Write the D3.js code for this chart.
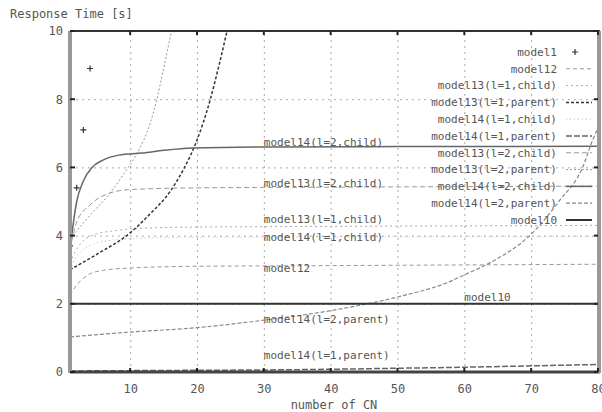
<!DOCTYPE html>
<html lang="en">
<head>
    <meta charset="UTF-8">
    <title>Response Time</title>
    <script src="https://d3js.org/d3.v7.min.js"></script>
    <style>
        body { margin: 0; background: #fff; }
        text { font-family: "DejaVu Sans Mono", monospace; fill: #555; }
        .grid line { stroke: #aaa; stroke-dasharray: 2,4; }
        .grid path { display: none; }
    </style>
</head>
<body>
    <svg width="602" height="412"></svg>
    <script>
        // x ticks / y ticks
        var xTicks = [10, 20, 30, 40, 50, 60, 70, 80];
        var yTicks = [0, 2, 4, 6, 8, 10];

        var legendNames = ["model1", "model12", "model13(l=1,child)", "model13(l=1,parent)",
            "model14(l=1,child)", "model14(l=1,parent)", "model13(l=2,child)", "model13(l=2,parent)",
            "model14(l=2,child)", "model14(l=2,parent)", "model10"];

        // series
        var model1X = [1, 2, 3, 4];
        var model1Y = [3.7, 5.4, 7.1, 8.9];

        var model12X = [1, 2, 3, 4, 6, 10, 20, 40, 60, 80];
        var model12Y = [2.25, 2.55, 2.75, 2.88, 2.98, 3.05, 3.1, 3.12, 3.14, 3.16];

        var model13l1cX = [1, 2, 3, 5, 8, 12, 20, 40, 80];
        var model13l1cY = [3.2, 3.6, 3.85, 4.05, 4.15, 4.22, 4.25, 4.27, 4.3];

        var model13l1pX = [1, 5, 10, 12.8, 16, 18, 20, 22, 23.3, 24.5];
        var model13l1pY = [3.0, 3.45, 4.08, 4.6, 5.3, 5.95, 6.8, 8.0, 9.0, 10];

        var model14l1cX = [1, 2, 3, 5, 8, 12, 20, 40, 80];
        var model14l1cY = [3.0, 3.4, 3.6, 3.78, 3.88, 3.93, 3.95, 3.96, 3.97];

        var model14l1pX = [1, 10, 20, 30, 40, 50, 60, 70, 80];
        var model14l1pY = [0.03, 0.04, 0.05, 0.06, 0.08, 0.11, 0.14, 0.18, 0.22];

        var model13l2cX = [1, 2, 4, 7, 10, 20, 40, 80];
        var model13l2cY = [3.6, 4.4, 4.9, 5.25, 5.35, 5.4, 5.42, 5.45];

        var model13l2pX = [1, 4, 7, 9, 11, 13, 14, 15, 16.2];
        var model13l2pY = [3.9, 4.6, 5.25, 5.8, 6.4, 7.3, 8.0, 8.9, 10];

        var model14l2cX = [1, 2, 3, 4.3, 6, 8.3, 11.8, 15, 19.3, 30, 50, 80];
        var model14l2cY = [3.6, 5.0, 5.6, 6.0, 6.22, 6.36, 6.42, 6.5, 6.57, 6.6, 6.61, 6.62];

        var model14l2pX = [1, 10, 20, 30, 40, 50, 57.8, 60, 63.8, 70.2, 74.3, 77.7, 79.2, 80];
        var model14l2pY = [1.03, 1.17, 1.3, 1.52, 1.8, 2.2, 2.65, 2.85, 3.2, 4.08, 5.04, 6.0, 6.8, 7.15];

        var model10X = [1, 80];
        var model10Y = [2, 2];

        // labels written inside the plot, at data coordinates
        var plotLabels = [
            { text: "model14(l=2,child)", x: 30, y: 6.74 },
            { text: "model13(l=2,child)", x: 30, y: 5.54 },
            { text: "model13(l=1,child)", x: 30, y: 4.49 },
            { text: "model14(l=1,child)", x: 30, y: 3.96 },
            { text: "model12", x: 30, y: 3.05 },
            { text: "model14(l=2,parent)", x: 30, y: 1.55 },
            { text: "model14(l=1,parent)", x: 30, y: 0.5 },
            { text: "model10", x: 60, y: 2.2 }
        ];

        function pts(xs, ys) { return xs.map(function (v, i) { return [v, ys[i]]; }); }

        var styles = {
            "model12": { data: pts(model12X, model12Y), color: "#999", width: 1, dash: "4,3" },
            "model13(l=1,child)": { data: pts(model13l1cX, model13l1cY), color: "#aaa", width: 1, dash: "2,3" },
            "model13(l=1,parent)": { data: pts(model13l1pX, model13l1pY), color: "#333", width: 1.5, dash: "3,2" },
            "model14(l=1,child)": { data: pts(model14l1cX, model14l1cY), color: "#bbb", width: 1, dash: "1,3" },
            "model14(l=1,parent)": { data: pts(model14l1pX, model14l1pY), color: "#666", width: 1.5, dash: "6,2" },
            "model13(l=2,child)": { data: pts(model13l2cX, model13l2cY), color: "#999", width: 1, dash: "5,3" },
            "model13(l=2,parent)": { data: pts(model13l2pX, model13l2pY), color: "#999", width: 1, dash: "2,2" },
            "model14(l=2,child)": { data: pts(model14l2cX, model14l2cY), color: "#666", width: 1.5, dash: null },
            "model14(l=2,parent)": { data: pts(model14l2pX, model14l2pY), color: "#888", width: 1.2, dash: "4,2" },
            "model10": { data: pts(model10X, model10Y), color: "#333", width: 2, dash: null }
        };

        var svg = d3.select("svg");
        var pLeft = 70, pRight = 598, pTop = 31, pBottom = 372;

        var x = d3.scaleLinear().domain([1, 80]).range([pLeft, pRight]);
        var y = d3.scaleLinear().domain([0, 10]).range([pBottom, pTop]);

        // grid
        svg.append("g").attr("class", "grid")
            .attr("transform", "translate(0," + pBottom + ")")
            .call(d3.axisBottom(x).tickValues(xTicks.slice(0, -1)).tickSize(-(pBottom - pTop)).tickFormat(""));
        svg.append("g").attr("class", "grid")
            .attr("transform", "translate(" + pLeft + ",0)")
            .call(d3.axisLeft(y).tickValues([2, 4, 6, 8]).tickSize(-(pRight - pLeft)).tickFormat(""));

        // tick labels
        var xAxis = svg.append("g")
            .attr("transform", "translate(0," + pBottom + ")")
            .call(d3.axisBottom(x).tickValues(xTicks).tickSize(0).tickPadding(12));
        var yAxis = svg.append("g")
            .attr("transform", "translate(" + pLeft + ",0)")
            .call(d3.axisLeft(y).tickValues(yTicks).tickSize(0).tickPadding(7));
        [xAxis, yAxis].forEach(function (a) {
            a.select(".domain").remove();
            a.selectAll("text").style("font-size", "12px").style("font-family", "DejaVu Sans Mono").attr("fill", "#555");
        });

        // lines
        var line = d3.line().x(function (d) { return x(d[0]); }).y(function (d) { return y(d[1]); })
            .curve(d3.curveMonotoneX);
        var plot = svg.append("g");
        plot.append("clipPath").attr("id", "clip").append("rect")
            .attr("x", pLeft).attr("y", pTop).attr("width", pRight - pLeft).attr("height", pBottom - pTop);
        var lines = plot.append("g").attr("clip-path", "url(#clip)");
        Object.keys(styles).forEach(function (k) {
            var s = styles[k];
            lines.append("path").datum(s.data)
                .attr("d", line)
                .attr("fill", "none")
                .attr("stroke", s.color)
                .attr("stroke-width", s.width)
                .attr("stroke-dasharray", s.dash);
        });

        // model1 points
        lines.selectAll(".pt").data(pts(model1X, model1Y)).enter().append("path")
            .attr("class", "pt")
            .attr("d", function (d) {
                var cx = x(d[0]), cy = y(d[1]);
                return "M" + (cx - 3) + "," + cy + "H" + (cx + 3) + "M" + cx + "," + (cy - 3) + "V" + (cy + 3);
            })
            .attr("stroke", "#333").attr("stroke-width", 1.2);

        // frame
        svg.append("line").attr("x1", pLeft).attr("x2", pRight + 2).attr("y1", pTop).attr("y2", pTop)
            .attr("stroke", "#333").attr("stroke-width", 2);
        svg.append("line").attr("x1", pLeft).attr("x2", pRight + 2).attr("y1", pBottom).attr("y2", pBottom)
            .attr("stroke", "#444").attr("stroke-width", 3);
        svg.append("line").attr("x1", pLeft).attr("x2", pLeft).attr("y1", pTop).attr("y2", pBottom + 1)
            .attr("stroke", "#999").attr("stroke-width", 4);
        svg.append("line").attr("x1", pRight + 1).attr("x2", pRight + 1).attr("y1", pTop).attr("y2", pBottom + 1)
            .attr("stroke", "#999").attr("stroke-width", 4);

        // small tick marks on the frame
        var ticks = svg.append("g").attr("stroke", "#222").attr("stroke-width", 2);
        xTicks.forEach(function (t) {
            ticks.append("line").attr("x1", x(t)).attr("x2", x(t)).attr("y1", pTop).attr("y2", pTop + 4);
            ticks.append("line").attr("x1", x(t)).attr("x2", x(t)).attr("y1", pBottom).attr("y2", pBottom - 4);
        });
        yTicks.forEach(function (t) {
            ticks.append("line").attr("x1", pLeft).attr("x2", pLeft + 5).attr("y1", y(t)).attr("y2", y(t));
            ticks.append("line").attr("x1", pRight).attr("x2", pRight - 4).attr("y1", y(t)).attr("y2", y(t));
        });

        // labels inside the plot
        svg.append("g").selectAll("text").data(plotLabels).enter().append("text")
            .attr("x", function (d) { return x(d.x); })
            .attr("y", function (d) { return y(d.y); })
            .attr("dy", "0.35em")
            .style("font-size", "11px")
            .text(function (d) { return d.text; });

        // legend
        var legend = svg.append("g");
        legendNames.forEach(function (name, i) {
            var ly = 52 + i * 16.8;
            legend.append("text").attr("x", 557).attr("y", ly).attr("dy", "0.35em")
                .attr("text-anchor", "end").style("font-size", "11px").text(name);
            if (name === "model1") {
                legend.append("path")
                    .attr("d", "M572," + ly + "H578M575," + (ly - 3) + "V" + (ly + 3))
                    .attr("stroke", "#333").attr("stroke-width", 1.2);
            } else {
                var s = styles[name];
                legend.append("line").attr("x1", 566).attr("x2", 592).attr("y1", ly).attr("y2", ly)
                    .attr("stroke", s.color).attr("stroke-width", s.width)
                    .attr("stroke-dasharray", s.dash);
            }
        });

        // axis titles
        svg.append("text").attr("x", 10).attr("y", 14).attr("dy", "0.35em")
            .style("font-size", "12px").text("Response Time [s]");
        svg.append("text").attr("x", 334).attr("y", 405).attr("dy", "0.35em")
            .attr("text-anchor", "middle").style("font-size", "12px").text("number of CN");
    </script>
</body>
</html>
